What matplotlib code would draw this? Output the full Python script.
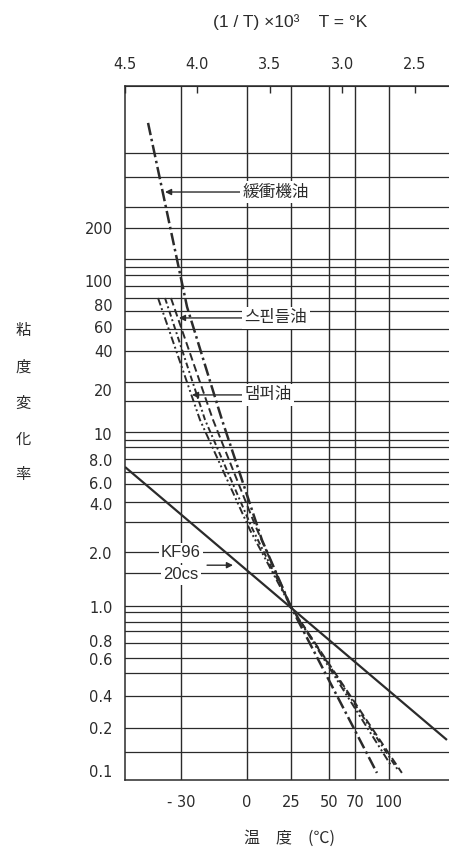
import numpy as np
import matplotlib
matplotlib.use('Agg')
import matplotlib.pyplot as plt

plt.rcParams['font.family'] = ['Noto Sans CJK JP', 'DejaVu Sans']

# 上の軸 (1/T)x10^3
top_ticks = [4.5, 4.0, 3.5, 3.0, 2.5]
# 下の軸 温度(℃)
temps = [-30, 0, 25, 50, 70, 100]
temp_labels = ['- 30', '0', '25', '50', '70', '100']

# 縦軸の目盛
y_ticks = [200, 100, 80, 60, 40, 20, 10, 8, 6, 4, 2, 1, 0.8, 0.6, 0.4, 0.2, 0.1]
y_labels = ['200', '100', '80', '60', '40', '20', '10', '8.0', '6.0', '4.0',
            '2.0', '1.0', '0.8', '0.6', '0.4', '0.2', '0.1']
# 横の罫線
h_lines = [533, 390, 263, 200, 133, 120, 108, 95.5, 85.3, 74.0, 58.0, 40,
           23.1, 16.8, 10.3, 9.5, 8.94, 8.07, 6.89, 5.89, 4.15, 3.10, 2.03,
           1.55, 1.013, 0.968, 0.906, 0.854, 0.775, 0.610, 0.515, 0.4, 0.2, 0.136]

# 粘度変化率 (x = (1/T)x10^3)
kf96_x = [4.5, 2.279]
kf96_y = [7.33, 0.165]
kansho_x = [4.341, 4.072, 3.831, 3.555, 3.355, 2.762]
kansho_y = [790, 78, 12.5, 2.40, 1.0, 0.097]
damper_x = [4.272, 3.983, 3.638, 3.355, 2.659]
damper_y = [85.3, 12.5, 2.77, 1.0, 0.107]
other_x = [4.224, 3.948, 3.624, 3.355, 2.617]
other_y = [85.3, 12.5, 2.85, 1.0, 0.1016]
spindle_x = [4.183, 3.893, 3.603, 3.355, 2.590]
spindle_y = [85.3, 12.5, 2.97, 1.0, 0.097]

# 原図の縦軸は等間隔の対数目盛ではないので、目盛の値と紙の上の位置で尺度を作る
scale_vals = [0.001, 0.01, 0.1, 0.2, 0.4, 0.6, 0.8, 1, 2, 4, 6, 8, 10, 20, 40,
              60, 80, 100, 200, 2000, 20000]
scale_pos = [1057, 914, 771, 728, 696, 659, 641, 607, 553, 504, 483, 460, 434,
             390, 351, 327, 305, 281, 228, 52, -124]
LOGV = np.log10(scale_vals)
POS = -np.array(scale_pos, float)


def fwd(v):
    v = np.clip(np.asarray(v, float), 1e-3, 1e4)
    return np.interp(np.log10(v), LOGV, POS)


def inv(u):
    return 10 ** np.interp(np.asarray(u, float), POS, LOGV)


def main():
    ink = '#2b2b2b'
    fig = plt.figure(figsize=(4.49, 8.51), dpi=100)
    ax = fig.add_axes([0.2784, 0.0834, 0.7216, 0.8155])
    ax.set_yscale('function', functions=(fwd, inv))
    ax.set_xlim(4.5, 2.265)
    ax.set_ylim(0.0865, 1280)

    num_font = dict(family=['Liberation Sans Narrow', 'DejaVu Sans'], size=10.5)

    temp_x = [1000 / (t + 273.15) for t in temps]
    ax.set_xticks(temp_x)
    ax.set_xticklabels(temp_labels, fontdict=num_font, color=ink)
    ax.set_yticks(y_ticks)
    ax.set_yticklabels(y_labels, fontdict=num_font, color=ink)
    ax.set_yticks(h_lines, minor=True)
    ax.yaxis.remove_overlapping_locs = False
    ax.tick_params(axis='x', which='both', length=0, pad=11)
    ax.tick_params(axis='y', which='both', length=0, pad=9)
    ax.grid(axis='x', which='major', color=ink, lw=1.0)
    ax.grid(axis='y', which='minor', color=ink, lw=0.9)
    ax.grid(axis='y', which='major', visible=False)
    ax.spines['right'].set_visible(False)
    for s in ['left', 'top', 'bottom']:
        ax.spines[s].set_color(ink)
        ax.spines[s].set_linewidth(1.1)

    sec = ax.secondary_xaxis('top')
    sec.set_xticks(top_ticks)
    sec.set_xticklabels(['4.5', '4.0', '3.5', '3.0', '2.5'], fontdict=num_font, color=ink)
    sec.tick_params(direction='in', length=5, width=1, color=ink, pad=10)
    sec.spines['top'].set_color(ink)

    ax.plot(kf96_x, kf96_y, color=ink, lw=1.6, solid_capstyle='butt')
    ax.plot(kansho_x, kansho_y, color=ink, lw=1.8, ls=(0, (5, 1.5, 1, 1.5)))
    ax.plot(damper_x, damper_y, color=ink, lw=1.4, ls=(0, (4, 1.5, 1, 1.5, 1, 1.5)))
    ax.plot(other_x, other_y, color=ink, lw=1.4, ls=(0, (3, 1.5, 1, 1.5)))
    ax.plot(spindle_x, spindle_y, color=ink, lw=1.4, ls=(0, (4, 2)))

    box = dict(boxstyle='square,pad=0.15', fc='white', ec='none')
    arr = dict(arrowstyle='-|>', color=ink, lw=1.0, mutation_scale=9,
               shrinkA=0, shrinkB=0)
    ax.annotate('緩衝機油', xy=(4.224, 320), xytext=(3.459, 320), ha='center',
                va='center', fontsize=12, color=ink, bbox=box, arrowprops=arr)
    ax.annotate('스핀들油', xy=(4.128, 67.5), xytext=(3.459, 67.5), ha='center',
                va='center', fontsize=12, color=ink, bbox=box, arrowprops=arr)
    ax.annotate('댐퍼油', xy=(4.038, 18.5), xytext=(3.514, 18.5), ha='center',
                va='center', fontsize=12, color=ink, bbox=box, arrowprops=arr)
    ax.text(4.114, 2.0, 'KF96', ha='center', va='center', fontsize=12,
            color=ink, bbox=box, family=['Liberation Sans', 'DejaVu Sans'])
    ax.text(4.114, 1.51, '20cs', ha='center', va='center', fontsize=12,
            color=ink, bbox=box, family=['Liberation Sans', 'DejaVu Sans'])
    ax.annotate('', xy=(3.755, 1.71), xytext=(3.934, 1.71), arrowprops=arr)

    fig.text(290 / 449, 1 - 22 / 851, '(1 / T) ×10³    T = °K', ha='center',
             va='center', fontsize=12.5, color=ink,
             family=['Liberation Sans', 'DejaVu Sans'])
    for ch, yy in zip('粘度変化率', [330, 367, 403, 439, 474]):
        fig.text(23 / 449, 1 - yy / 851, ch, ha='center', va='center',
                 fontsize=11, color=ink)
    fig.text(290 / 449, 1 - 838 / 851, '温　度　(℃)', ha='center', va='center',
             fontsize=11.5, color=ink)

    fig.savefig('out.png', dpi=100)


if __name__ == "__main__":
    main()
